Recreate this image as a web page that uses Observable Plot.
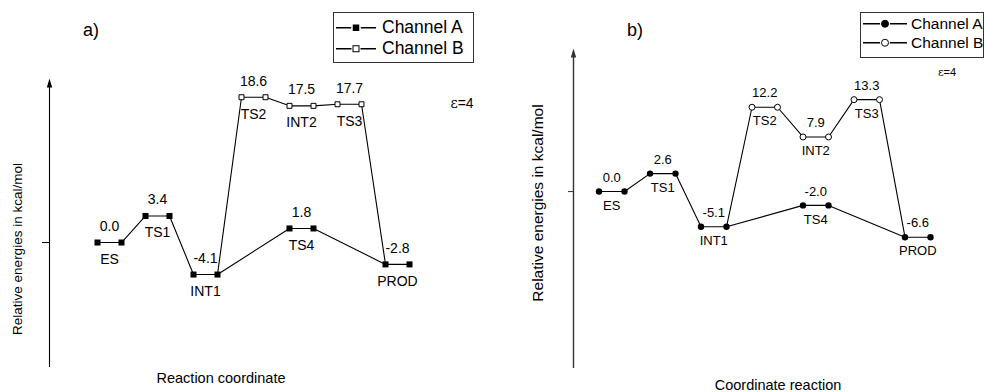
<!DOCTYPE html>
<html><head><meta charset="utf-8">
<script src="https://cdn.jsdelivr.net/npm/d3@7"></script>
<script src="https://cdn.jsdelivr.net/npm/@observablehq/plot@0.6"></script>
<style>
body{margin:0;background:#fff;font-family:Arial,"Liberation Sans",sans-serif;}
#root{position:relative;width:986px;height:392px;overflow:hidden;background:#fff;}
.panel{position:absolute;top:0;}
.t{position:absolute;white-space:nowrap;color:#000;line-height:1;}
.c{transform:translate(-50%,-50%);}
.r{transform:translate(-50%,-50%) rotate(-90deg);}
.legend{position:absolute;border:1px solid #333;background:#fff;box-sizing:border-box;}
.row{position:absolute;left:0;display:flex;align-items:center;line-height:1;white-space:nowrap;}
.eps{font-family:'DejaVu Serif',serif;}
</style></head><body><div id="root"></div>
<script>
// ---- data ----
const statesA = ["ES", "TS1", "INT1", "TS4", "PROD"];   // Channel A stationary points
const stepA = [0, 1, 2, 4, 6];                           // order along reaction coordinate
const statesB = ["TS2", "INT2", "TS3"];                  // Channel B stationary points
const stepB = [3, 4, 5];
const energyA_a = [0.0, 3.4, -4.1, 1.8, -2.8];           // panel a) kcal/mol
const energyB_a = [18.6, 17.5, 17.7];
const energyA_b = [0.0, 2.6, -5.1, -2.0, -6.6];          // panel b) kcal/mol
const energyB_b = [12.2, 7.9, 13.3];
const legendLabels = ["Channel A", "Channel B"];

const root = document.getElementById("root");

function build(eA, eB) {
  const levA = statesA.map((n, i) => ({name: n, x: stepA[i], y: eA[i]}));
  const levB = statesB.map((n, i) => ({name: n, x: stepB[i], y: eB[i]}));
  const pts = l => l.flatMap(d => [{x: d.x, y: d.y}, {x: d.x + 0.5, y: d.y}]);
  const pathA = pts(levA);
  const iInt1 = statesA.indexOf("INT1"), iProd = statesA.indexOf("PROD");
  const ptsB = pts(levB);
  const pathB = [{x: stepA[iInt1] + 0.5, y: eA[iInt1]}, ...ptsB, {x: stepA[iProd], y: eA[iProd]}];
  const labels = [...levA, ...levB].map(d => ({...d, x: d.x + 0.25}));
  return {pathA, pathB, ptsA: pathA, ptsB, labels};
}

const arrowHead = {draw(ctx) { ctx.moveTo(0, 0); ctx.lineTo(2.7, 9); ctx.lineTo(-2.7, 9); ctx.closePath(); }};

function panel(opts) {
  const d = build(opts.eA, opts.eB);
  const [y0, y1] = opts.ydom;
  const x0 = opts.xdom[0];
  const p = Plot.plot({
    width: 493, height: 392,
    marginLeft: opts.ml, marginRight: opts.mr, marginTop: opts.mt, marginBottom: opts.mb,
    x: {domain: opts.xdom, axis: null},
    y: {domain: opts.ydom},
    style: {fontFamily: "Arial, 'Liberation Sans', sans-serif", background: "transparent", color: "#000"},
    marks: [
      Plot.ruleX([x0], {y1: y0, y2: y1 - 1, stroke: opts.axisColor, strokeWidth: opts.axisWidth}),
      Plot.dot([{x: x0, y: y1}], {x: "x", y: "y", symbol: arrowHead, fill: opts.axisColor, stroke: null}),
      Plot.axisY({ticks: [0], tickSize: opts.tick, tickFormat: () => "", label: null, anchor: "left", stroke: opts.axisColor}),
      Plot.line(d.pathA, {x: "x", y: "y", stroke: "#000", strokeWidth: 1.1}),
      Plot.line(d.pathB, {x: "x", y: "y", stroke: "#000", strokeWidth: 1.1}),
      Plot.dot(d.ptsA, {x: "x", y: "y", symbol: opts.symbol, r: opts.rA, fill: "#000", stroke: null}),
      Plot.dot(d.ptsB, {x: "x", y: "y", symbol: opts.symbol, r: opts.rB, fill: "#fff", stroke: "#000", strokeWidth: 1}),
      Plot.text(d.labels, {x: "x", y: "y", text: v => v.y.toFixed(1), dy: opts.dyUp, fontSize: opts.fs, fill: "#000"}),
      Plot.text(d.labels, {x: "x", y: "y", text: "name", dy: opts.dyDown, fontSize: opts.fs, fill: "#000"})
    ]
  });
  p.classList.add("panel");
  p.style.left = opts.left + "px";
  root.appendChild(p);
}

panel({eA: energyA_a, eB: energyB_a, left: 0, ml: 49, mr: 12, mt: 78, mb: 25,
  xdom: [-1, 8], ydom: [-16, 21], symbol: "square", rA: 3.4, rB: 2.8,
  fs: 14, dyUp: -16, dyDown: 17, tick: 7, axisColor: "#000", axisWidth: 1.1});
panel({eA: energyA_b, eB: energyB_b, left: 493, ml: 80, mr: 5, mt: 48, mb: 24,
  xdom: [-0.5, 7.5], ydom: [-25.6, 20.7], symbol: "circle", rA: 3.2, rB: 3,
  fs: 13, dyUp: -14, dyDown: 14, tick: 5, axisColor: "#333", axisWidth: 1.4});

function text(str, x, y, size, cls, html) {
  const el = document.createElement("div");
  el.className = "t " + cls;
  if (html) el.innerHTML = str; else el.textContent = str;
  el.style.left = x + "px"; el.style.top = y + "px"; el.style.fontSize = size + "px";
  root.appendChild(el);
}
text("a)", 91, 30, 18, "c");
text("b)", 635, 30, 18, "c");
text('<span class="eps">ε</span>=4', 462, 103, 14, "c", true);
text('<span class="eps">ε</span>=4', 947, 72, 11, "c", true);
text("Relative energies in kcal/mol", 18, 249, 13.5, "r");
text("Relative energies in kcal/mol", 538, 203, 15.5, "r");
text("Reaction coordinate", 221, 378, 14.5, "c");
text("Coordinate reaction", 778, 385, 14.5, "c");

function legend(x, y, w, h, rows, sym, fs, lineW, gap) {
  const box = document.createElement("div");
  box.className = "legend";
  Object.assign(box.style, {left: x + "px", top: y + "px", width: w + "px", height: h + "px"});
  legendLabels.forEach((lab, i) => {
    const row = document.createElement("div");
    row.className = "row";
    row.style.top = (rows[i] - y - 1 - fs / 2) + "px";
    row.style.height = fs + "px";
    const svg = d3.create("svg").attr("width", lineW + 4).attr("height", fs).style("flex", "none");
    const cy = fs / 2;
    svg.append("line").attr("x1", 2).attr("x2", lineW + 2).attr("y1", cy).attr("y2", cy).attr("stroke", "#000").attr("stroke-width", 1.3);
    const cx = lineW / 2 + 2;
    const filled = i === 0;
    if (sym === "square") {
      const s = filled ? 6.5 : 6;
      svg.append("rect").attr("x", cx - s / 2 - 1.5).attr("y", cy - s / 2 - 1.5).attr("width", s + 3).attr("height", s + 3).attr("fill", "#fff");
      svg.append("rect").attr("x", cx - s / 2).attr("y", cy - s / 2).attr("width", s).attr("height", s)
        .attr("fill", filled ? "#000" : "#fff").attr("stroke", "#000").attr("stroke-width", filled ? 0 : 1);
    } else {
      svg.append("circle").attr("cx", cx).attr("cy", cy).attr("r", 5).attr("fill", "#fff");
      svg.append("circle").attr("cx", cx).attr("cy", cy).attr("r", 3.5)
        .attr("fill", filled ? "#000" : "#fff").attr("stroke", "#000").attr("stroke-width", 1);
    }
    row.appendChild(svg.node());
    const sp = document.createElement("span");
    sp.textContent = lab;
    sp.style.fontSize = fs + "px";
    sp.style.marginLeft = gap + "px";
    row.appendChild(sp);
    box.appendChild(row);
  });
  root.appendChild(box);
}
legend(333, 12, 141, 51, [28, 49], "square", 17.5, 40, 4);
legend(860, 12, 124, 46, [24, 43], "circle", 15.5, 44, 2);
</script></body></html>
